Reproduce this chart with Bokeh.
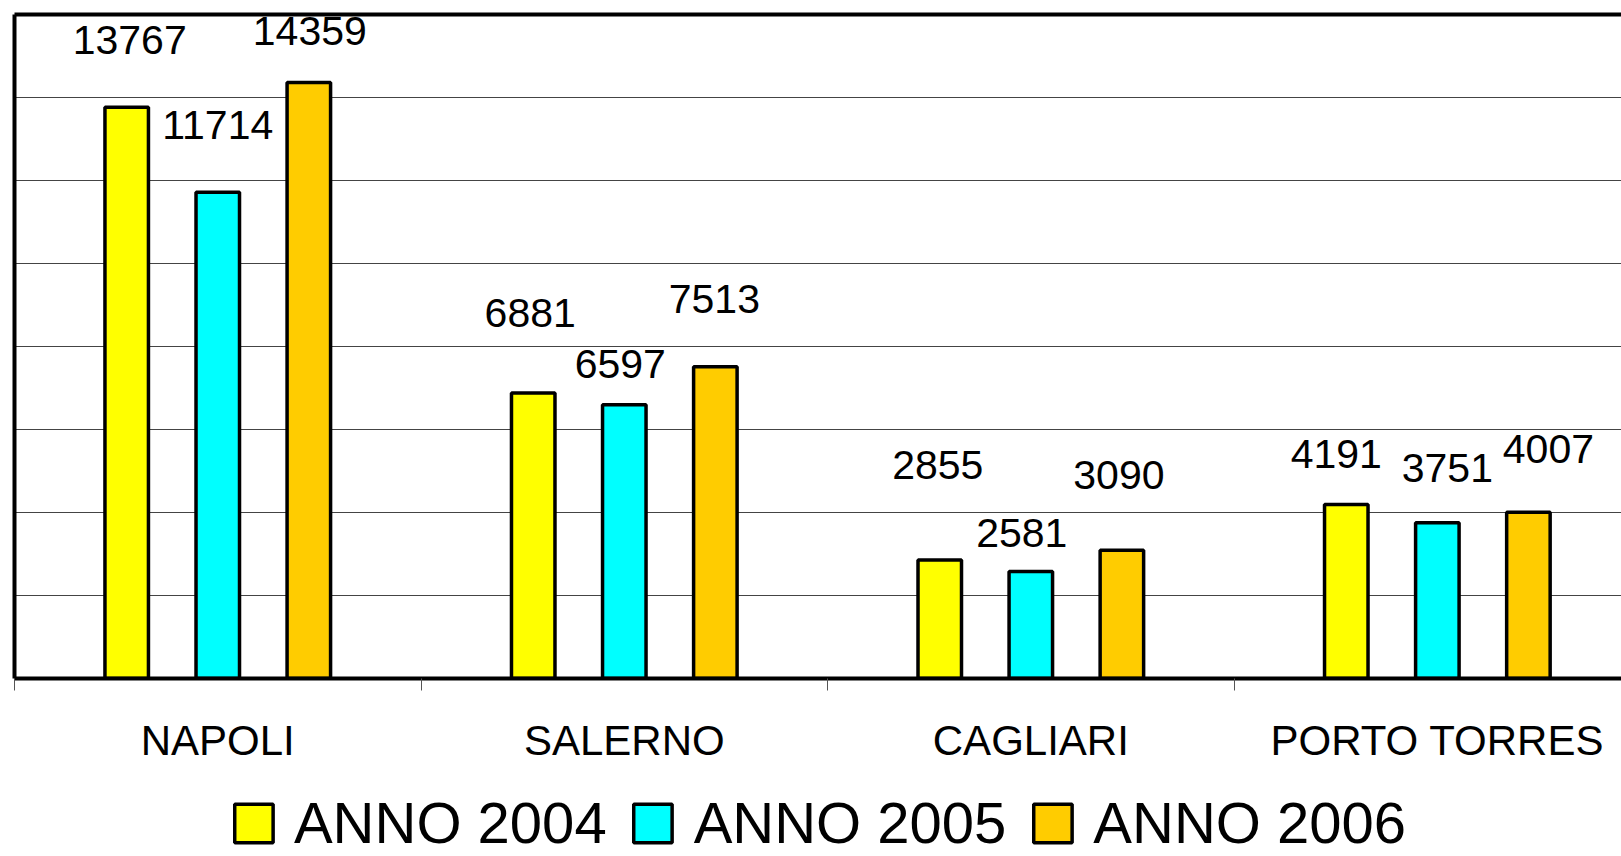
from bokeh.plotting import figure
from bokeh.layouts import column
from bokeh.models import (ColumnDataSource, FixedTicker, LinearAxis, Legend,
                          LegendItem, Range1d)
from bokeh.transform import dodge
from bokeh.core.properties import value
from bokeh.embed import file_html
from bokeh.resources import INLINE

# ---- data ----
ports = ["NAPOLI", "SALERNO", "CAGLIARI", "PORTO TORRES"]
years = ["ANNO 2004", "ANNO 2005", "ANNO 2006"]
anno_2004 = [13767, 6881, 2855, 4191]
anno_2005 = [11714, 6597, 2581, 3751]
anno_2006 = [14359, 7513, 3090, 4007]
y_ticks = [0, 2000, 4000, 6000, 8000, 10000, 12000, 14000, 16000]

# ---- styles ----
colors = ["#FFFF00", "#00FFFF", "#FFCC00"]
offsets = [-0.224, 0.0, 0.224]
bar_w = 0.107
# label placement tweaks (screen px): horizontal shift, lift above bar top
label_dx = [[3, -3, -2, -10], [0, -4, -9, 10], [1, -1, -3, 20]]
label_lift = [[52, 65, 80, 36], [52, 26, 23, 40], [37, 53, 60, 48]]
lift_base = 15

centers = [i + 0.5 for i in range(len(ports))]
series = [anno_2004, anno_2005, anno_2006]

src = ColumnDataSource(dict(x=centers, a2004=anno_2004, a2005=anno_2005, a2006=anno_2006))
cols = ["a2004", "a2005", "a2006"]

W = 1621
p = figure(width=W, height=790, output_backend="svg", toolbar_location=None,
           x_range=Range1d(0, 3.953), y_range=Range1d(y_ticks[0], y_ticks[-1]),
           min_border_left=14, min_border_top=14, min_border_right=0,
           min_border_bottom=112)
p.outline_line_color = None
p.background_fill_color = "white"
p.border_fill_color = "white"

renderers = []
for k in range(3):
    r = p.vbar(x=dodge("x", offsets[k], range=p.x_range), top=cols[k], width=bar_w,
               bottom=0, source=src, fill_color=colors[k], line_color="black",
               line_width=3.5)
    renderers.append(r)

# data labels
lx, ly, lt, ldx, ldy = [], [], [], [], []
for k in range(3):
    for i in range(len(ports)):
        lx.append(centers[i] + offsets[k])
        ly.append(series[k][i])
        lt.append(str(series[k][i]))
        ldx.append(label_dx[k][i])
        ldy.append(-(label_lift[k][i] + lift_base))
lsrc = ColumnDataSource(dict(x=lx, y=ly, t=lt, dx=ldx, dy=ldy))
p.text(x="x", y="y", text="t", x_offset="dx", y_offset="dy", source=lsrc,
       text_align="center", text_baseline="alphabetic",
       text_font=value("Liberation Sans"), text_font_size="41px",
       text_color="black")

# grid
p.xgrid.visible = False
p.ygrid.ticker = FixedTicker(ticks=y_ticks)
p.ygrid.grid_line_color = "#444444"
p.ygrid.grid_line_width = 1.2

# y axis (left border)
ya = p.left[0]
ya.ticker = FixedTicker(ticks=[])
ya.major_label_standoff = 0
ya.major_tick_line_color = None
ya.minor_tick_line_color = None
ya.axis_line_width = 4
ya.axis_line_color = "black"

# x axis
xa = p.below[0]
xa.ticker = FixedTicker(ticks=centers, minor_ticks=list(range(len(ports))))
xa.major_label_overrides = {c: n for c, n in zip(centers, ports)}
xa.major_tick_line_color = None
xa.major_tick_out = 0
xa.major_tick_in = 0
xa.minor_tick_out = 12
xa.minor_tick_in = 0
xa.minor_tick_line_color = "#555555"
xa.minor_tick_line_width = 1
xa.axis_line_width = 4
xa.axis_line_color = "black"
xa.major_label_text_font = "Liberation Sans"
xa.major_label_text_font_size = "42px"
xa.major_label_text_color = "black"
xa.major_label_standoff = 26

# top border
top = LinearAxis(ticker=FixedTicker(ticks=[]), axis_line_width=4, axis_line_color="black",
                 major_label_standoff=0,
                 major_tick_line_color=None, minor_tick_line_color=None)
p.add_layout(top, "above")

# legend strip
lf = figure(width=W, height=66, output_backend="svg", toolbar_location=None,
            x_range=p.x_range, y_range=p.y_range, min_border=0)
lf.axis.visible = False
lf.grid.visible = False
lf.outline_line_color = None
leg_r = []
for k in range(3):
    r = lf.vbar(x=dodge("x", offsets[k], range=lf.x_range), top=cols[k], width=bar_w,
                bottom=0, source=src, fill_color=colors[k], line_color="black",
                line_width=3.5)
    r.visible = False
    leg_r.append(r)

legend = Legend(items=[LegendItem(label=years[k], renderers=[leg_r[k]]) for k in range(3)],
                orientation="horizontal", location="bottom_center",
                border_line_color=None, background_fill_alpha=0,
                glyph_width=48, glyph_height=48, label_standoff=17, spacing=22,
                padding=0, margin=0, inactive_fill_alpha=0,
                label_text_font="Liberation Sans", label_text_font_size="58px",
                label_text_color="black")
lf.add_layout(legend, "center")

layout = column(p, lf, spacing=0)
open("out.html", "w").write(file_html(layout, INLINE))
